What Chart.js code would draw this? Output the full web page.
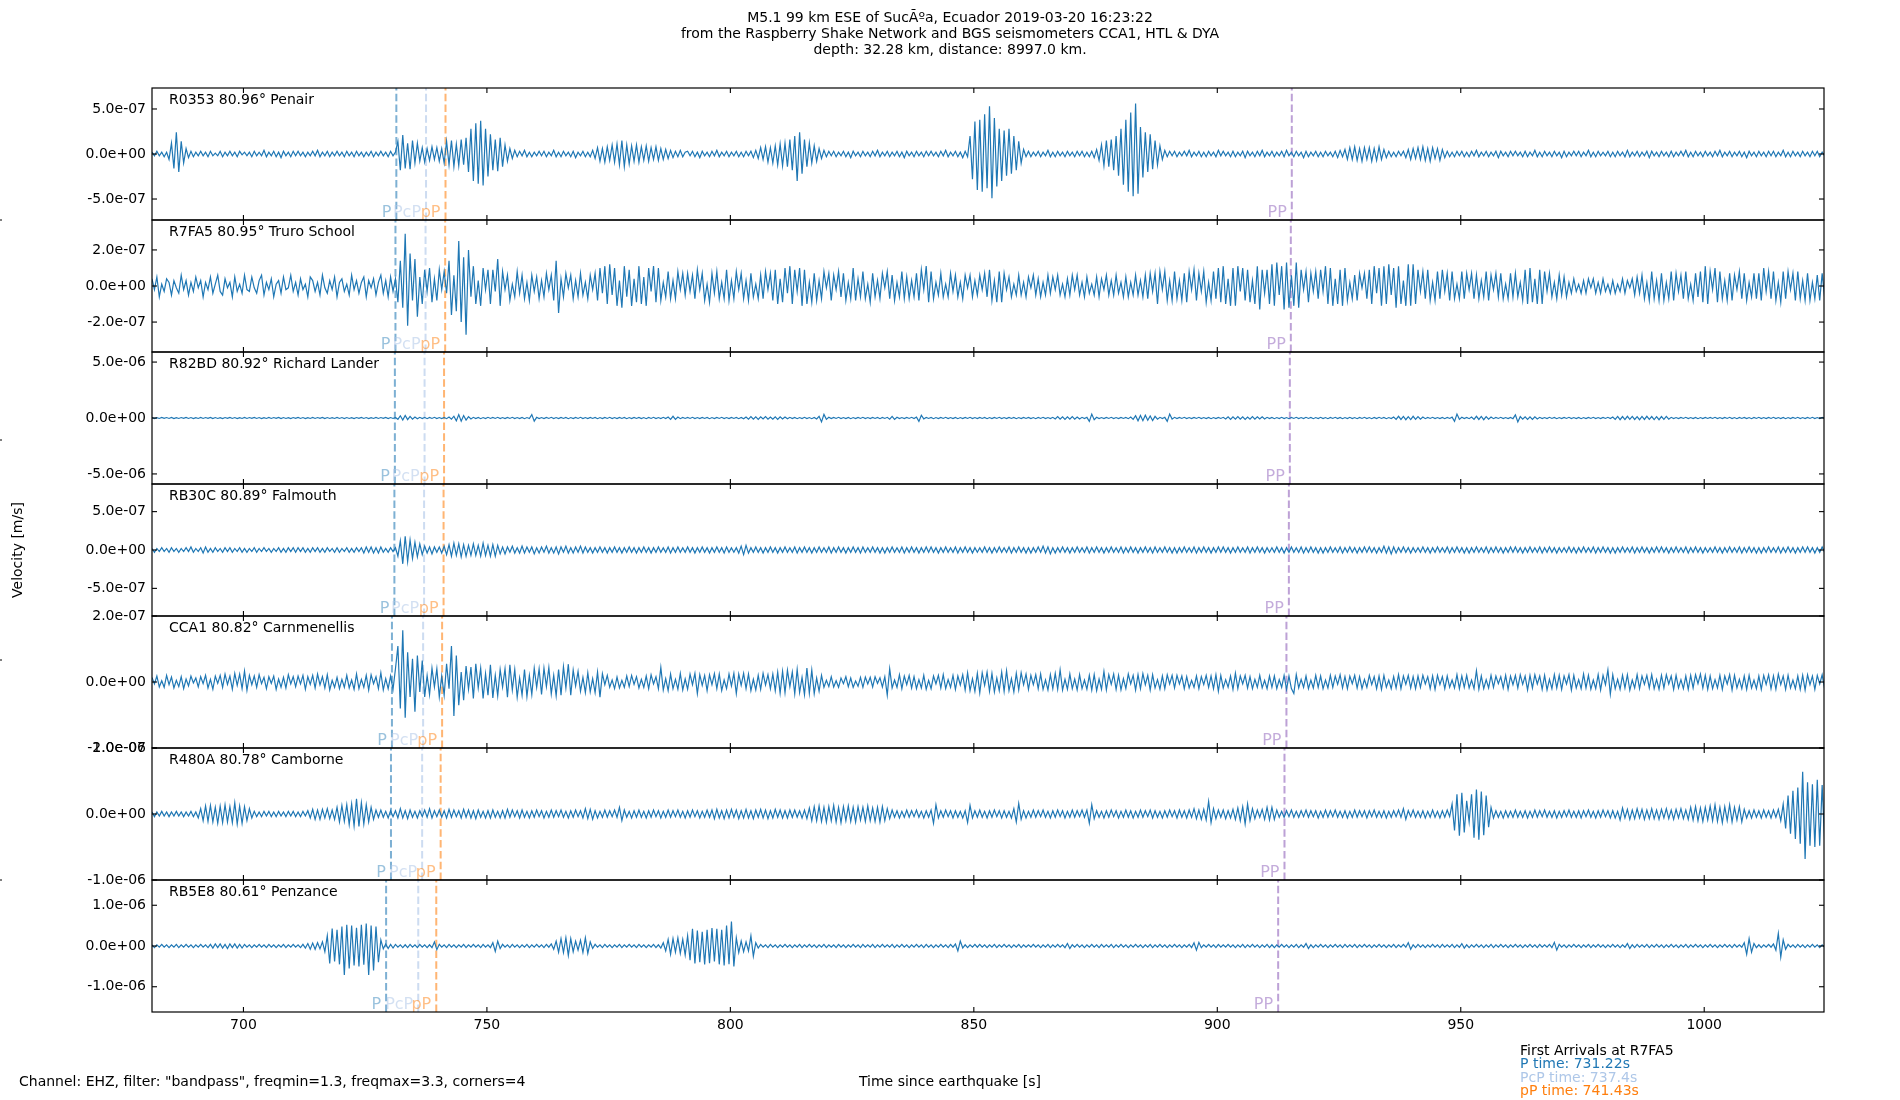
<!DOCTYPE html>
<html><head><meta charset="utf-8">
<script src="https://cdn.jsdelivr.net/npm/chart.js@4/dist/chart.umd.min.js"></script>
<style>html,body{margin:0;padding:0;background:#fff}canvas{display:block}</style>
</head><body>
<canvas id="c" width="1900" height="1100" style="width:1900px;height:1100px"></canvas>
<script>
// ---------- data ----------
const TITLE_LINES = ['M5.1 99 km ESE of SucÃºa, Ecuador 2019-03-20 16:23:22',
  'from the Raspberry Shake Network and BGS seismometers CCA1, HTL & DYA',
  'depth: 32.28 km, distance: 8997.0 km.'];
const STATIONS = ['R0353 80.96° Penair','R7FA5 80.95° Truro School','R82BD 80.92° Richard Lander',
  'RB30C 80.89° Falmouth','CCA1 80.82° Carnmenellis','R480A 80.78° Camborne','RB5E8 80.61° Penzance'];
const PHASES = ['P','PcP','pP','PP'];
const P_TIME   = [731.4, 731.22, 731.1, 731.0, 730.5, 730.3, 729.3];
const PCP_TIME = [737.5, 737.4, 737.2, 737.1, 736.9, 736.7, 735.9];
const PP_TIME  = [741.5, 741.43, 741.2, 741.1, 740.8, 740.5, 739.6];
const PPP_TIME = [915.3, 915.1, 914.9, 914.7, 914.2, 913.8, 912.5];
const X_MIN = 681.22, X_MAX = 1024.6;
const X_TICKS = [700, 750, 800, 850, 900, 950, 1000];
const Y_MAX = [7.33e-7, 3.66e-7, 5.9e-6, 8.6e-7, 2e-7, 1e-6, 1.62e-6];
const Y_TICKS = [[-5e-7,0,5e-7],[-2e-7,0,2e-7],[-5e-6,0,5e-6],[-5e-7,0,5e-7],[-2e-7,0,2e-7],[-1e-6,0,1e-6],[-1e-6,0,1e-6]];
// samples every SAMPLE_DT seconds from X_MIN; values in UNITS[i] m/s
const SAMPLE_DT = 0.5;
const UNITS = [1e-8, 1e-8, 1e-8, 1e-8, 1e-9, 1e-8, 1e-8];

const R0353 = [
2,-2,3,-2,2,-3,2,-6,12,-16,24,-20,14,-10,6,-4,3,-3,2,-2,
3,-2,2,-3,3,-2,1,-2,3,-3,2,-2,3,-2,2,-3,3,-1,2,-2,
2,-3,3,-2,2,-2,4,-3,2,-2,3,-3,2,-4,3,-2,2,-3,3,-2,
3,-2,2,-3,2,-2,3,-2,4,-3,2,-2,3,-3,2,-2,3,-2,2,-3,
3,-2,2,-3,3,-2,2,-3,2,-2,3,-3,2,-2,3,-2,2,-3,3,-2,
2,14,-18,21,-16,12,-17,15,-10,12,-8,7,-9,6,-7,8,-6,7,-8,6,
-10,14,-12,15,-14,11,-13,16,-12,18,-20,28,-30,34,-33,37,-35,28,-25,22,
-18,16,-19,18,-14,10,-8,6,-5,4,-3,3,-2,4,-3,2,-3,2,-2,3,
-2,3,-3,2,-2,4,-3,2,-3,3,-2,2,-3,3,-4,2,-2,3,-3,2,
-3,4,-5,7,-8,6,-9,8,-7,10,-9,11,-12,15,-14,10,-11,9,-8,10,
-9,8,-7,9,-8,7,-6,8,-7,6,-6,5,-5,4,-4,3,-3,4,-3,2,
3,-2,3,-3,2,-4,3,-2,2,-3,3,-2,4,-3,2,-2,3,-3,2,-2,
3,-3,2,-3,3,-2,3,-4,4,-5,7,-6,8,-9,7,-10,9,-12,11,-13,
12,-14,16,-18,20,-30,24,-22,16,-14,12,-10,9,-8,6,-5,4,-3,3,-2,
3,-3,2,-2,3,-3,2,-4,3,-2,2,-3,3,-2,2,-3,3,-2,4,-3,
2,-2,3,-3,2,-2,3,-3,2,-4,3,-2,2,-3,3,-2,2,-3,3,-2,
3,-2,2,-3,3,-2,4,-3,2,-2,3,-3,2,-4,3,-3,20,-28,36,-40,
38,-42,44,-38,53,-49,40,-36,28,-30,26,-24,28,-22,20,-18,14,-10,5,-3,
3,-3,2,-2,3,-3,2,-2,4,-3,2,-3,3,-2,2,-3,3,-2,2,-3,
3,-2,3,-3,2,-3,3,-4,5,-7,10,-13,15,-14,16,-18,20,-24,28,-34,
38,-42,46,-47,56,-44,30,-26,24,-20,22,-17,15,-12,9,-6,4,-3,3,-2,
3,-3,2,-2,3,-2,4,-3,2,-2,3,-3,2,-3,3,-2,2,-3,4,-2,
3,-2,2,-3,3,-3,2,-2,3,-4,3,-2,2,-3,3,-2,4,-3,2,-2,
3,-3,2,-2,3,-3,4,-2,2,-3,3,-2,2,-4,3,-3,2,-2,3,-3,
2,-3,3,-2,2,-3,3,-4,4,-3,5,-6,7,-6,8,-7,6,-8,7,-6,
7,-8,6,-7,8,-6,5,-4,3,-3,2,-3,3,-2,3,-4,5,-6,6,-5,
7,-6,8,-7,6,-8,7,-5,6,-7,5,-4,3,-3,2,-3,3,-2,3,-3,
2,-3,3,-2,4,-3,2,-2,3,-3,2,-2,3,-4,3,-2,2,-3,3,-2,
3,-2,2,-3,3,-3,2,-2,4,-3,2,-3,3,-2,2,-3,3,-2,2,-4,
3,-3,2,-2,3,-2,3,-3,2,-2,4,-3,2,-3,3,-2,2,-2,3,-3,
2,-3,3,-2,2,-3,4,-3,2,-2,3,-3,2,-2,3,-4,3,-2,2,-3,
3,-2,2,-3,3,-3,2,-2,3,-2,4,-3,2,-3,3,-2,2,-3,3,-2,
2,-3,3,-2,4,-3,2,-2,3,-3,2,-2,3,-3,2,-4,3,-2,2,-3,
3,-2,2,-3,3,-2,3,-3,2,-2,4,-3,2,-3,3,-2,2,-3,3,-2,
2,-3,3,-2,3,-3,2,-2];

const R7FA5 = [
4,-2,5,-6,1,-3,4,2,-5,3,-1,-4,6,-2,3,-5,2,-3,5,-1,
3,-6,2,-2,5,-4,1,6,-3,-5,4,-1,2,-6,5,-3,1,-4,6,-2,
-3,5,-1,-4,3,6,-5,2,-2,4,-6,1,3,-4,5,-2,-1,6,-3,2,
-5,4,-2,1,-6,5,3,-3,2,-5,6,-1,-4,3,-2,5,-6,2,4,-3,
1,-5,6,-2,3,-4,2,5,-6,3,-1,4,-5,2,6,-4,3,-6,5,-3,
4,-9,14,-12,29,-22,18,-8,15,-17,5,-10,9,-3,10,-9,4,-8,9,-2,
8,-4,14,-16,6,-14,25,-20,16,-27,20,-6,11,-10,3,-11,10,-2,9,-10,
9,-3,15,-11,8,-2,6,-8,1,-6,8,-4,6,-7,2,-8,6,-3,5,-7,
3,-6,7,-2,6,-8,14,-15,4,-6,7,-1,6,-7,3,-6,7,-5,2,-7,
6,-2,7,-8,10,-4,11,-10,12,-5,10,-11,3,-12,11,-6,9,-11,4,-9,
11,-10,5,-11,10,-3,11,-9,10,-8,2,-6,8,-7,3,-7,8,-2,7,-5,
7,-3,6,-7,9,-2,7,-8,1,-9,7,-4,8,-7,2,-7,9,-8,3,-7,
8,-2,7,-7,3,-8,7,-6,1,-7,6,-7,8,-2,7,-8,9,-10,4,-9,
10,-4,11,-10,9,-3,10,-11,9,-10,2,-9,7,-8,3,-7,8,-1,7,-8,
6,-2,8,-6,7,-8,2,-7,10,-8,4,-6,8,-7,1,-9,7,-6,3,-7,
7,-1,8,-7,6,-8,2,-6,8,-7,5,-7,3,-6,7,-8,9,-2,11,-9,
8,-7,2,-5,7,-6,1,-6,7,-3,6,-6,2,-7,6,-1,6,-6,3,-5,
6,-2,7,-6,9,-8,3,-9,8,-9,7,-2,5,-6,1,-5,6,-5,2,-6,
5,-1,6,-5,4,-6,2,-5,6,-4,5,-2,6,-5,1,-6,4,-5,6,-2,
6,-5,2,-6,5,-4,1,-5,5,-6,4,-2,6,-5,3,-5,6,-4,2,-6,
5,-6,2,-5,6,-5,3,-6,6,-7,7,-3,7,-10,8,-2,8,-8,3,-8,
8,-7,3,-8,7,-9,8,-2,9,-8,7,-3,8,-9,2,-8,8,-7,10,-9,
11,-10,4,-11,10,-11,11,-3,10,-8,9,-9,3,-10,11,-13,9,-4,9,-10,
12,-11,13,-5,11,-13,13,-12,6,-11,13,-12,9,-2,8,-9,7,-3,8,-7,
9,-3,11,-10,10,-11,4,-10,9,-11,10,-8,2,-7,6,-8,7,-1,7,-7,
9,-10,11,-4,10,-11,11,-10,12,-5,10,-12,11,-10,3,-11,12,-11,12,-10,
9,-3,8,-7,9,-8,2,-8,8,-7,9,-3,7,-8,8,-7,1,-7,8,-7,
7,-2,7,-7,6,-7,3,-6,8,-8,6,-2,7,-6,7,-7,1,-7,7,-6,
7,-6,2,-8,9,-10,10,-9,4,-10,9,-10,8,-3,7,-6,2,-7,6,-5,
5,-6,2,-4,4,-3,1,-4,3,-4,4,-1,4,-4,2,-4,4,-3,1,-4,
3,-4,1,-3,4,-4,3,-1,4,-5,5,-4,6,-7,2,-8,8,-7,3,-8,
7,-8,2,-7,8,-8,7,-3,6,-7,8,-7,1,-8,7,-6,8,-9,11,-10,
8,-2,10,-9,8,-7,3,-8,7,-8,6,-2,8,-7,7,-8,2,-6,7,-7,
7,-8,10,-3,8,-7,8,-8,2,-9,8,-7,8,-2,7,-8,8,-7,3,-8,
7,-8,2,-7,6,-8,7,-6];

const R82BD = [
4,-5,3,-4,5,-3,4,-4,5,-5,3,-4,4,-3,5,-4,4,-5,3,-4,
5,-4,4,-3,5,-5,4,-4,3,-5,4,-3,5,-4,4,-5,3,-4,5,-4,
4,-3,5,-4,4,-5,3,-4,5,-4,4,-3,5,-5,4,-4,3,-5,4,-3,
5,-4,4,-5,3,-4,5,-4,4,-3,5,-5,4,-4,3,-4,5,-4,4,-5,
4,-4,3,-5,4,-3,5,-4,4,-5,3,-4,5,-4,4,-3,5,-5,4,-4,
5,-12,20,-18,22,-15,14,-10,8,-7,6,-5,6,-6,5,-4,6,-5,4,-5,
5,-6,8,-10,16,-25,30,-28,22,-18,12,-8,6,-5,5,-6,4,-5,6,-4,
5,-4,6,-5,4,-5,5,-4,6,-5,4,-5,5,-6,4,-5,30,-28,6,-5,
4,-5,5,-4,6,-5,4,-5,5,-4,5,-6,4,-5,5,-4,6,-5,4,-5,
5,-4,5,-6,4,-5,5,-4,6,-5,4,-5,5,-4,5,-6,4,-5,5,-4,
5,-5,4,-6,5,-4,6,-5,4,-5,6,-5,8,-12,15,-13,8,-6,5,-4,
5,-4,6,-5,4,-5,5,-4,5,-6,4,-5,5,-4,6,-5,4,-5,5,-4,
5,-6,5,-7,9,-10,12,-11,10,-12,11,-9,12,-10,9,-11,10,-12,11,-9,
8,-7,6,-5,5,-6,4,-5,6,-5,4,-6,5,-8,15,-35,32,-12,6,-5,
5,-4,6,-5,4,-5,5,-6,4,-5,5,-4,6,-5,4,-5,5,-4,5,-6,
5,-4,6,-10,15,-12,6,-5,4,-5,5,-4,6,-5,8,-30,25,-8,5,-4,
5,-6,4,-5,5,-4,6,-5,4,-5,5,-6,4,-5,5,-4,6,-5,4,-5,
5,-4,5,-6,4,-5,5,-4,6,-5,4,-5,5,-4,5,-6,4,-5,5,-4,
5,-5,4,-6,5,-4,6,-5,4,-5,6,-8,12,-10,11,-12,10,-11,12,-10,
9,-8,6,-5,6,-30,35,-15,6,-5,4,-5,5,-4,6,-5,4,-5,5,-4,
5,-6,8,-12,20,-25,22,-24,25,-20,18,-22,15,-10,6,-5,6,-30,35,-10,
6,-5,5,-4,6,-5,4,-5,5,-4,6,-5,4,-5,5,-6,4,-5,5,-4,
6,-8,10,-12,11,-10,12,-11,10,-12,9,-11,12,-10,11,-9,10,-8,6,-5,
5,-6,4,-5,6,-5,4,-6,5,-4,6,-5,4,-5,6,-4,5,-6,4,-5,
6,-5,4,-6,5,-4,6,-5,5,-6,4,-5,6,-5,4,-6,5,-4,6,-5,
4,-6,5,-5,6,-4,5,-6,4,-5,8,-12,15,-13,14,-15,12,-14,15,-12,
13,-10,8,-6,5,-4,6,-5,4,-5,5,-6,5,-4,8,-30,35,-12,6,-5,
5,-6,8,-12,15,-13,14,-15,12,-10,8,-6,5,-4,6,-5,4,-5,5,-6,
28,-35,12,-10,11,-12,10,-12,11,-8,6,-5,4,-5,6,-4,5,-6,4,-5,
5,-4,6,-5,4,-5,5,-6,4,-5,5,-4,6,-5,4,-5,5,-4,6,-5,
8,-12,14,-15,13,-14,15,-12,14,-13,12,-15,14,-13,15,-12,13,-14,12,-15,
13,-12,14,-10,6,-5,4,-5,5,-4,6,-5,4,-5,5,-6,4,-5,5,-4,
5,-4,6,-5,4,-5,5,-4,6,-5,4,-6,5,-4,5,-5,4,-6,5,-4,
6,-5,4,-5,5,-4,6,-5,4,-5,5,-6,4,-5,5,-4,6,-5,4,-5,
5,-4,6,-5,4,-5,5,-4];

const RB30C = [
2,-3,2,-2,3,-2,2,-3,3,-2,2,-3,2,-2,3,-2,4,-3,2,-2,
3,-4,4,-3,2,-3,3,-2,2,-3,3,-2,3,-3,2,-2,3,-3,2,-3,
2,-2,3,-3,2,-2,3,-2,2,-3,2,-2,3,-3,2,-3,3,-2,3,-3,
3,-2,3,-3,2,-3,3,-2,3,-3,2,-3,3,-2,2,-3,3,-3,2,-2,
3,-3,2,-3,3,-2,3,-4,4,-3,4,-4,3,-4,4,-3,2,-3,3,-2,
3,-8,12,-18,18,-15,13,-11,10,-9,8,-6,5,-4,4,-5,4,-3,4,-4,
5,-6,7,-8,9,-7,8,-9,7,-8,6,-7,8,-7,6,-8,9,-7,6,-8,
7,-8,6,-5,4,-5,4,-3,5,-4,3,-4,5,-4,4,-3,4,-5,3,-4,
4,-3,5,-4,3,-4,4,-5,4,-3,5,-4,3,-4,4,-3,5,-4,4,-3,
3,-4,3,-3,4,-3,3,-4,3,-3,4,-3,3,-4,3,-3,4,-3,3,-4,
3,-3,4,-3,3,-4,3,-3,4,-3,3,-3,4,-4,3,-3,4,-3,3,-3,
4,-3,3,-4,3,-3,4,-3,3,-4,3,-3,4,-3,3,-4,4,-3,3,-3,
3,-4,5,-6,6,-4,3,-3,4,-3,3,-4,3,-3,4,-3,3,-4,3,-3,
4,-3,3,-3,4,-4,3,-3,4,-3,3,-4,3,-3,4,-3,3,-3,4,-4,
3,-3,4,-3,3,-4,3,-3,4,-3,3,-4,4,-3,3,-3,4,-3,3,-4,
3,-4,3,-3,4,-3,3,-3,4,-4,3,-3,4,-3,3,-4,3,-3,4,-3,
4,-3,3,-4,3,-3,4,-3,3,-3,4,-4,3,-3,4,-3,3,-4,3,-3,
3,-3,4,-3,3,-4,3,-3,4,-3,3,-3,4,-4,3,-3,4,-3,3,-4,
3,-4,3,-3,4,-3,5,-4,4,-5,3,-4,3,-3,4,-3,3,-4,3,-3,
4,-3,3,-3,4,-4,3,-3,4,-3,3,-4,3,-3,4,-3,3,-3,4,-4,
3,-3,4,-3,3,-4,3,-3,4,-3,3,-4,4,-3,3,-3,4,-3,3,-4,
3,-4,3,-3,4,-3,3,-3,4,-4,3,-3,4,-3,3,-4,3,-3,4,-3,
4,-3,3,-4,3,-3,4,-3,3,-3,4,-4,3,-3,4,-3,3,-4,3,-3,
3,-3,4,-3,3,-4,3,-3,4,-3,3,-3,4,-4,3,-3,4,-3,3,-4,
3,-4,3,-3,4,-3,3,-3,4,-4,3,-3,4,-3,3,-4,3,-3,4,-3,
4,-3,3,-4,3,-3,5,-4,4,-5,4,-4,3,-3,4,-3,3,-4,3,-3,
3,-3,4,-3,3,-4,3,-3,4,-3,3,-3,4,-4,3,-3,4,-3,3,-4,
3,-4,3,-3,4,-3,3,-3,4,-4,3,-3,4,-3,3,-4,3,-3,4,-3,
4,-3,3,-4,3,-3,4,-3,3,-3,4,-4,3,-3,4,-3,3,-4,3,-3,
3,-3,4,-3,3,-4,3,-3,4,-3,3,-3,4,-4,3,-3,4,-3,3,-4,
3,-4,3,-3,4,-3,3,-3,4,-4,3,-3,4,-3,3,-4,3,-3,4,-3,
4,-3,3,-4,3,-3,4,-3,3,-3,4,-4,3,-3,4,-3,3,-4,3,-3,
3,-3,4,-3,3,-4,3,-3,4,-3,3,-3,4,-4,3,-3,4,-3,3,-4,
3,-4,3,-3,4,-3,3,-3,4,-4,3,-3,4,-3,3,-4,3,-3,4,-3,
4,-3,3,-4,3,-3,4,-3];

const CCA1 = [
14,-6,18,-15,4,-16,20,-8,15,-18,5,-14,16,-20,9,-12,18,-3,12,-15,
16,-5,20,-18,8,-22,18,-4,20,-16,24,-7,18,-22,26,-10,24,-20,33,-25,
20,-8,18,-16,22,-5,14,-20,16,-4,18,-22,9,-16,14,-18,22,-6,16,-14,
18,-6,20,-22,16,-7,20,-18,24,-9,16,-18,22,-24,5,-16,14,-20,8,-16,
20,-18,6,-22,24,-20,8,-16,20,-24,22,-5,16,-20,28,-24,10,-20,18,-22,
40,109,-80,157,-108,90,-45,70,-90,80,-30,65,-45,20,-38,42,-15,40,-45,18,
-40,55,-20,109,-103,80,-70,30,-55,48,-22,45,-50,55,-18,42,-50,25,-40,52,
-48,20,-42,38,-15,40,-46,52,-24,38,-46,12,-40,38,-44,20,-38,42,-16,40,
-38,42,-14,44,-36,20,-42,38,-40,46,-18,54,-40,36,-12,32,-28,14,-32,28,
-30,10,-32,30,-46,25,-8,20,-16,6,-20,15,-18,5,-16,18,-14,20,-7,16,
-18,8,-16,18,-20,22,-6,16,-20,44,-24,10,-26,24,-20,8,-22,26,-24,9,
-22,24,-8,26,-35,22,-10,20,-26,22,-8,25,-20,24,-26,6,-20,24,-12,26,
-35,24,-10,26,-20,24,-26,8,-24,20,-22,26,-9,22,-20,24,-26,30,-34,32,
-32,36,-14,30,-36,38,-32,14,-38,42,-34,36,-35,12,-28,20,-16,5,-14,16,
-15,4,-16,12,-5,16,-14,12,-16,3,-13,14,-16,15,-6,14,-15,16,-4,13,
-15,16,-40,40,-18,6,-16,22,-20,18,-8,20,-18,16,-20,7,-18,20,-22,5,
-20,18,-6,20,-18,22,-20,7,-16,20,-22,18,-9,22,-24,28,-26,10,-28,26,
-33,28,-10,30,-28,26,-30,12,-26,30,-28,34,-26,10,-30,26,-24,28,-8,24,
-22,20,-8,22,-20,24,-22,6,-24,22,-20,26,-22,37,-24,8,-22,24,-20,9,
-24,22,-20,6,-22,20,-24,22,-26,9,-22,32,-24,22,-7,24,-22,20,-24,10,
-20,24,-6,20,-24,22,-20,25,-8,20,-24,22,-18,7,-22,18,-20,22,-6,20,
-18,20,-6,18,-20,16,-18,5,-16,18,-20,16,-8,20,-16,18,-20,22,-28,20,
-18,7,-16,18,-22,27,-20,18,-6,20,-18,16,-20,8,-16,20,-18,5,-20,18,
-16,18,-20,7,-16,20,-22,18,-20,-35,22,-18,8,-16,18,-20,6,-18,20,-16,
18,-20,6,-18,20,-16,18,-7,22,-18,16,-20,18,-5,20,-18,16,-20,8,-16,
20,-8,16,-20,18,-22,20,-16,6,-20,16,-18,22,-20,18,-7,20,-18,16,-20,
18,-16,20,-6,16,-20,18,-22,20,-8,16,-20,18,-16,6,-18,22,-20,18,-16,
20,-18,6,-20,34,-22,18,-20,7,-18,20,-16,18,-5,16,-18,20,-22,18,-8,
20,-18,22,-7,18,-24,20,-18,22,-6,18,-22,20,-24,8,-20,22,-18,20,-22,
18,-6,22,-24,20,-18,7,-20,24,-18,20,-22,6,-20,22,-24,20,-8,37,-37,
22,-20,8,-22,20,-18,22,-25,6,-18,22,-20,18,-7,20,-18,22,-20,8,-22,
20,-18,22,-6,18,-22,20,-18,7,-20,18,-22,20,-18,22,-5,24,-18,20,-22,
18,-20,7,-18,20,-22,18,-6,22,-24,20,-18,8,-20,18,-22,20,-18,6,-20,
18,-22,20,-7,22,-20,18,-22,24,-8,18,-22,20,-18,6,-20,18,-22,20,-24,
22,-8,18,-22,20,-6,22,-20];

const R480A = [
3,-4,3,-3,4,-3,3,-4,3,-3,4,-3,3,-4,3,-3,4,-4,3,-6,
8,-10,12,-11,13,-12,10,-14,12,-13,14,-12,11,-13,17,-15,12,-14,11,-10,
8,-6,4,-4,3,-4,4,-3,4,-4,3,-4,4,-3,3,-4,4,-3,4,-4,
3,-4,4,-3,5,-6,7,-8,6,-8,7,-6,8,-7,6,-8,10,-12,13,-11,
14,-16,15,-18,23,-19,17,-15,14,-12,10,-8,6,-5,6,-5,4,-6,5,-4,
5,-6,8,-6,5,-7,6,-5,4,-6,5,-4,6,-5,8,-6,5,-4,6,-5,
5,-6,7,-5,6,-4,5,-6,7,-5,6,-6,5,-7,6,-5,4,-6,5,-6,
6,-5,4,-6,5,-6,7,-5,6,-4,5,-6,6,-5,4,-6,5,-5,6,-4,
5,-6,4,-5,6,-5,5,-4,6,-5,4,-6,5,-5,6,-4,5,-6,8,-7,
7,-8,5,-6,4,-5,6,-5,5,-4,6,-5,10,-10,6,-5,4,-6,5,-5,
6,-5,4,-6,5,-5,6,-4,5,-6,4,-5,6,-5,5,-4,6,-5,4,-6,
5,-5,6,-4,5,-6,4,-5,6,-5,6,-7,7,-6,5,-7,6,-6,7,-5,
6,-7,5,-6,7,-6,5,-7,6,-5,7,-6,6,-7,5,-6,7,-5,6,-6,
5,-6,6,-5,6,-5,5,-6,6,-7,9,-10,11,-10,12,-11,10,-12,11,-10,
13,-12,10,-13,11,-10,12,-11,10,-12,11,-9,10,-11,12,-10,9,-11,10,-12,
11,-10,8,-7,6,-5,5,-6,4,-5,6,-5,5,-4,6,-5,4,-6,5,-5,
6,-14,14,-6,5,-5,6,-4,5,-6,5,-5,4,-6,5,-13,13,-6,5,-5,
6,-5,4,-6,5,-5,6,-4,5,-6,5,-5,4,-6,8,-12,16,-8,5,-6,
4,-5,6,-5,5,-4,6,-5,4,-6,5,-5,6,-4,5,-6,4,-5,6,-5,
5,-4,6,-5,6,-14,14,-7,5,-5,4,-6,5,-5,6,-4,5,-6,4,-5,
6,-5,5,-6,4,-5,6,-5,5,-4,6,-6,5,-5,4,-6,5,-5,6,-4,
5,-6,6,-5,5,-6,6,-5,8,-7,6,-8,7,-9,19,-13,8,-7,6,-5,
6,-7,5,-6,7,-8,9,-10,11,-15,15,-10,8,-7,6,-5,7,-8,10,-9,
10,-8,6,-5,4,-5,5,-4,6,-5,4,-5,5,-4,6,-5,5,-4,5,-6,
4,-5,6,-5,5,-4,6,-5,4,-5,5,-6,4,-5,6,-5,5,-4,5,-6,
5,-4,6,-5,4,-5,5,-6,4,-5,5,-4,6,-5,8,-8,5,-4,6,-5,
4,-5,5,-6,4,-5,6,-5,4,-6,5,-5,6,-4,15,-25,30,-33,32,-28,
20,-12,30,-36,37,-39,34,-32,28,-20,10,-6,5,-5,4,-6,5,-5,4,-5,
6,-5,4,-5,5,-6,4,-5,6,-5,5,-4,6,-5,4,-5,5,-6,4,-5,
5,-4,6,-5,4,-5,5,-6,5,-4,6,-5,4,-6,5,-5,6,-4,5,-6,
5,-6,4,-9,9,-6,7,-8,6,-7,8,-6,7,-8,6,-7,8,-7,6,-8,
7,-6,8,-7,6,-8,7,-6,8,-7,6,-8,10,-9,11,-10,9,-11,10,-9,
12,-10,14,-11,10,-13,11,-10,14,-12,10,-9,11,-12,7,-6,5,-6,6,-5,
5,-6,6,-5,5,-6,6,-5,7,-10,15,-22,28,-30,35,-38,40,-45,64,-68,
48,-48,45,-50,52,-48,44,-40];

const RB5E8 = [
3,-4,3,-3,4,-3,3,-4,3,-3,4,-4,3,-3,4,-3,3,-4,3,-3,
4,-3,3,-4,4,-5,5,-4,5,-5,4,-6,5,-4,5,-5,4,-5,4,-3,
3,-4,3,-3,4,-3,3,-4,4,-3,3,-4,3,-3,4,-4,3,-3,4,-3,
3,-4,4,-5,6,-8,7,-8,8,-7,10,-14,25,-43,43,-38,40,-45,48,-71,
52,-55,50,-48,45,-50,52,-46,55,-71,50,-60,48,-40,15,-7,5,-6,4,-5,
4,-3,3,-4,3,-4,4,-3,3,-4,4,-3,3,-4,3,-4,10,-9,4,-3,
3,-4,4,-3,3,-4,3,-3,4,-4,3,-3,4,-3,3,-4,4,-3,3,-4,
8,-13,12,-6,4,-3,3,-4,4,-3,3,-4,3,-3,4,-4,3,-3,4,-3,
3,-4,4,-3,5,-8,12,-15,18,-16,20,-23,18,-14,12,-10,14,-16,20,-18,
10,-6,4,-3,3,-4,4,-3,3,-4,3,-3,4,-4,3,-3,4,-3,3,-4,
4,-3,3,-4,3,-3,4,-4,3,-5,8,-12,16,-20,18,-15,20,-18,16,-22,
25,-35,42,-43,38,-40,35,-45,40,-42,44,-38,42,-45,40,-48,50,-45,60,-50,
20,-16,12,-14,10,-12,25,-25,8,-5,4,-3,3,-4,4,-3,3,-4,3,-3,
4,-3,3,-4,3,-3,4,-4,3,-3,4,-3,3,-4,3,-3,4,-4,3,-3,
3,-4,4,-3,3,-4,3,-3,4,-3,3,-4,4,-3,3,-3,4,-4,3,-3,
4,-3,3,-3,4,-4,3,-3,4,-3,3,-4,3,-3,4,-3,3,-4,4,-3,
3,-4,3,-3,4,-3,3,-4,4,-3,5,-12,12,-5,3,-4,3,-3,4,-3,
4,-3,3,-4,3,-3,4,-4,3,-3,4,-3,3,-4,3,-3,4,-4,3,-3,
3,-3,4,-3,3,-4,3,-3,4,-4,3,-3,4,-3,3,-4,6,-6,3,-3,
4,-3,3,-4,3,-3,4,-3,3,-4,4,-3,3,-3,4,-4,3,-3,4,-3,
3,-4,3,-3,4,-3,3,-4,3,-3,4,-4,3,-3,4,-3,3,-4,3,-3,
4,-3,3,-4,3,-3,4,-4,8,-10,9,-4,3,-3,4,-3,3,-4,4,-3,
3,-3,4,-3,3,-4,3,-3,4,-4,3,-3,4,-3,3,-4,3,-3,4,-4,
3,-4,3,-3,4,-3,3,-4,3,-3,4,-4,3,-3,6,-6,3,-4,3,-3,
4,-3,3,-4,3,-3,4,-3,3,-4,4,-3,3,-3,4,-4,3,-3,4,-3,
3,-4,3,-3,4,-3,3,-4,3,-3,4,-4,3,-3,4,-3,8,-8,3,-4,
4,-3,3,-4,3,-3,4,-3,3,-4,4,-3,3,-3,4,-4,3,-3,6,-5,
3,-4,3,-3,4,-3,3,-4,3,-3,4,-4,3,-3,4,-3,3,-4,3,-3,
4,-3,3,-4,3,-3,4,-3,3,-4,4,-3,3,-3,4,-4,9,-10,4,-3,
3,-4,3,-3,4,-3,3,-4,3,-3,4,-4,3,-3,4,-3,3,-4,3,-3,
4,-3,3,-4,3,-3,6,-6,3,-4,4,-3,3,-3,4,-4,3,-3,4,-3,
3,-4,3,-3,4,-3,3,-4,3,-3,4,-4,3,-3,4,-3,3,-4,3,-3,
4,-3,3,-4,3,-3,4,-3,3,-4,4,-3,3,-3,8,-20,18,-15,6,-4,
3,-4,3,-3,4,-3,5,-10,31,-27,15,-8,4,-3,3,-4,4,-3,3,-4,
3,-3,4,-3,3,-4,3,-3];

const TRACES = [R0353, R7FA5, R82BD, RB30C, CCA1, R480A, RB5E8];
const PHASE_LINE_COLORS = ['rgba(31,119,180,0.58)','rgba(174,199,232,0.62)','rgba(255,127,14,0.58)','rgba(148,103,189,0.62)'];
const PHASE_TEXT_COLORS = ['rgba(31,119,180,0.45)','rgba(174,199,232,0.55)','rgba(255,127,14,0.5)','rgba(148,103,189,0.55)'];
const ARRIVALS_TEXT = [['First Arrivals at R7FA5','#000'],['P time: 731.22s','#1f77b4'],['PcP time: 737.4s','#aec7e8'],['pP time: 741.43s','#ff7f0e']];

// ---------- build ----------
const FONT = '"DejaVu Sans", "Liberation Sans", sans-serif';
function fmtExp(v){
  if (v === 0) return '0.0e+00';
  const s = v.toExponential(1).split('e');
  const e = parseInt(s[1],10);
  return s[0] + 'e' + (e < 0 ? '-' : '+') + String(Math.abs(e)).padStart(2,'0');
}
const phaseTimes = [P_TIME, PCP_TIME, PP_TIME, PPP_TIME];
const datasets = [];
TRACES.forEach((arr,i)=>{
  datasets.push({
    data: arr.map((v,k)=>({x: X_MIN + k*SAMPLE_DT, y: v*UNITS[i]})),
    yAxisID: 'y'+i, borderColor:'#1f77b4', borderWidth:1.2, pointRadius:0, tension:0, fill:false
  });
});
TRACES.forEach((arr,i)=>{
  phaseTimes.forEach((pt,j)=>{
    datasets.push({
      data:[{x:pt[i], y:-Y_MAX[i]},{x:pt[i], y:Y_MAX[i]}],
      yAxisID:'y'+i, borderColor:PHASE_LINE_COLORS[j], borderWidth:2, borderDash:[7.5,3.3],
      pointRadius:0, fill:false
    });
  });
});

const scales = {
  x: {type:'linear', position:'bottom', min:X_MIN, max:X_MAX,
    grid:{display:false, drawTicks:false}, border:{display:false},
    ticks:{font:{family:FONT, size:14}, color:'#000', padding:5, maxRotation:0, autoSkip:false, callback:v=>String(v)},
    afterBuildTicks:s=>{s.ticks = X_TICKS.map(v=>({value:v}));},
    afterFit:s=>{s.height = 88;}}
};
TRACES.forEach((arr,i)=>{
  scales['y'+i] = {type:'linear', position:'left', stack:'traces', stackWeight:1, weight:7-i,
    min:-Y_MAX[i], max:Y_MAX[i],
    grid:{display:false, drawTicks:false}, border:{display:false},
    ticks:{font:{family:FONT, size:14}, color:'#000', padding:6, autoSkip:false, callback:v=>fmtExp(v)},
    afterBuildTicks:s=>{s.ticks = Y_TICKS[i].map(v=>({value:v}));},
    afterFit:s=>{s.width = 152;}};
});

function seg(ctx,x1,y1,x2,y2){ctx.beginPath();ctx.moveTo(x1,y1);ctx.lineTo(x2,y2);ctx.stroke();}

const decor = {
  id:'decor',
  afterDatasetsDraw(chart){
    const ctx = chart.ctx, xs = chart.scales.x, a = chart.chartArea;
    ctx.save();
    TRACES.forEach((arr,i)=>{
      const ys = chart.scales['y'+i];
      ctx.font = '16px ' + FONT; ctx.textAlign='right'; ctx.textBaseline='alphabetic';
      phaseTimes.forEach((pt,j)=>{
        ctx.fillStyle = PHASE_TEXT_COLORS[j];
        ctx.fillText(PHASES[j], xs.getPixelForValue(pt[i]) - 5, ys.bottom - 3);
      });
      ctx.font = '14px ' + FONT; ctx.textAlign='left'; ctx.fillStyle='#000';
      ctx.fillText(STATIONS[i], a.left + 17, ys.top + 16);
      ctx.strokeStyle='#000'; ctx.lineWidth=1.2;
      ctx.strokeRect(a.left, ys.top, a.right - a.left, ys.bottom - ys.top);
      ctx.lineWidth=1.1;
      ys.ticks.forEach(tk=>{
        const py = ys.getPixelForValue(tk.value);
        seg(ctx, a.left, py, a.left+5, py);
        seg(ctx, a.right-5, py, a.right, py);
      });
      xs.ticks.forEach(tk=>{
        const px = xs.getPixelForValue(tk.value);
        seg(ctx, px, ys.top, px, ys.top+5);
        seg(ctx, px, ys.bottom-5, px, ys.bottom);
      });
    });
    ctx.restore();
  },
  afterDraw(chart){
    const ctx = chart.ctx, W = chart.width, H = chart.height, a = chart.chartArea;
    ctx.save();
    ctx.fillStyle='#000'; ctx.font='14px ' + FONT; ctx.textBaseline='middle';
    ctx.textAlign='center';
    TITLE_LINES.forEach((t,k)=>ctx.fillText(t, W/2, 18 + k*16));
    ctx.fillText('Time since earthquake [s]', W/2, 1082);
    ctx.textAlign='left';
    ctx.fillText('Channel: EHZ, filter: "bandpass", freqmin=1.3, freqmax=3.3, corners=4', 19, 1082);
    ARRIVALS_TEXT.forEach((r,k)=>{ctx.fillStyle=r[1]; ctx.fillText(r[0], 1520, 1051 + k*13.6);});
    ctx.fillStyle='#000';
    ctx.translate(18, (a.top + a.bottom)/2); ctx.rotate(-Math.PI/2);
    ctx.textAlign='center'; ctx.fillText('Velocity [m/s]', 0, 0);
    ctx.restore();
    ctx.save(); ctx.strokeStyle='#000'; ctx.lineWidth=1;
    [0.2,0.4,0.6,0.8].forEach(f=>seg(ctx,0,H*f,2,H*f));
    ctx.restore();
  }
};

new Chart(document.getElementById('c'), {
  type:'line',
  data:{datasets},
  options:{
    responsive:false, animation:false, devicePixelRatio:1,
    layout:{padding:{top:88, right:76, bottom:0, left:0}},
    plugins:{legend:{display:false}, tooltip:{enabled:false}, title:{display:false}},
    scales
  },
  plugins:[decor]
});
</script>
</body></html>
